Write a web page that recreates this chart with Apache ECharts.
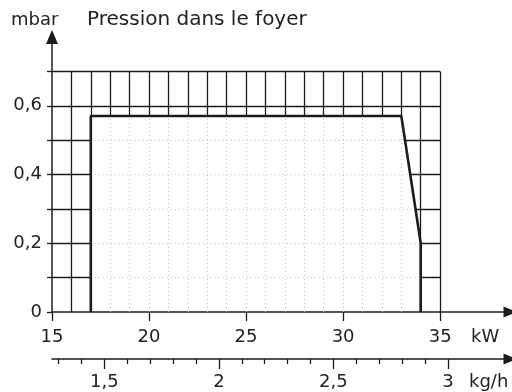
<!DOCTYPE html>
<html>
<head>
<meta charset="utf-8">
<script src="https://cdn.jsdelivr.net/npm/echarts@6/dist/echarts.min.js"></script>
<style>
html, body { margin: 0; padding: 0; background: #fff; }
#main { width: 512px; height: 392px; }
</style>
</head>
<body>
<div id="main"></div>
<script>
// axis labels / ticks
const kwLabels = [15, 20, 25, 30, 35];
const kghLabels = [1.5, 2, 2.5, 3];
const kghMinor = [1.3, 1.4, 1.6, 1.7, 1.8, 1.9, 2.1, 2.2, 2.3, 2.4, 2.6, 2.7, 2.8, 2.9];
const mbarLabels = [0, 0.2, 0.4, 0.6];
// background grid (kW every 1, mbar every 0.1)
const gridKw = [15, 16, 17, 18, 19, 20, 21, 22, 23, 24, 25, 26, 27, 28, 29, 30, 31, 32, 33, 34, 35];
const gridMbar = [0.1, 0.2, 0.3, 0.4, 0.5, 0.6, 0.7];
// working range outline
const zoneKw = [17, 17, 33, 34, 34];
const zoneMbar = [0, 0.57, 0.57, 0.2, 0];
const KW_PER_KGH = 11.8;

const INK = '#1c1c1c';
const FONT = 'DejaVu Sans';
const kwMin = 15, kwMax = 38.6, topMbar = 0.7;

// x of the right edge of the zone at a given pressure
function edgeAt(m) {
    for (let i = 2; i < zoneKw.length - 1; i++) {
        const y1 = zoneMbar[i], y2 = zoneMbar[i + 1];
        if (m <= y1 && m >= y2) {
            return zoneKw[i] + (zoneKw[i + 1] - zoneKw[i]) * (y1 - m) / (y1 - y2);
        }
    }
    return zoneKw[zoneKw.length - 1];
}

const zoneTop = zoneMbar[1];
const blackSegs = [];
const faintSegs = [];
gridKw.forEach(k => {
    if (k === kwMin) return;
    if (k < zoneKw[0] || k >= zoneKw[zoneKw.length - 1]) {
        blackSegs.push({ coords: [[k, 0], [k, topMbar]] });
    } else {
        blackSegs.push({ coords: [[k, zoneTop], [k, topMbar]] });
        if (k > zoneKw[0]) faintSegs.push({ coords: [[k, 0], [k, zoneTop]] });
    }
});
gridMbar.forEach(m => {
    if (m > zoneTop) {
        blackSegs.push({ coords: [[kwMin, m], [35, m]] });
    } else {
        blackSegs.push({ coords: [[kwMin, m], [zoneKw[0], m]] });
        blackSegs.push({ coords: [[edgeAt(m), m], [35, m]] });
        faintSegs.push({ coords: [[zoneKw[0], m], [edgeAt(m), m]] });
    }
});

const comma = v => String(v).replace('.', ',');
const labelStyle = { fontFamily: FONT, fontSize: 18, color: '#222' };

const chart = echarts.init(document.getElementById('main'), null, { renderer: 'canvas' });
chart.setOption({
    animation: false,
    title: [
        { text: 'mbar', left: 11, top: 11, padding: 0, textStyle: Object.assign({}, labelStyle, { fontWeight: 'normal' }) },
        { text: 'Pression dans le foyer', left: 87, top: 10, padding: 0, textStyle: Object.assign({}, labelStyle, { fontWeight: 'normal', fontSize: 20 }) }
    ],
    graphic: [
        { type: 'text', left: 471, top: 328, style: { text: 'kW', font: '18px "DejaVu Sans"', fill: '#222' } },
        { type: 'text', left: 469, top: 373, style: { text: 'kg/h', font: '18px "DejaVu Sans"', fill: '#222' } }
    ],
    grid: [
        { left: 52, right: 2, top: 37, bottom: 80 },
        { left: 52, right: 2, top: 350, bottom: 33 }
    ],
    xAxis: [
        {
            type: 'value', gridIndex: 0, min: kwMin, max: kwMax, position: 'bottom',
            axisLine: { lineStyle: { color: INK, width: 1.5 }, symbol: ['none', 'triangle'], symbolSize: [11, 13] },
            axisTick: { customValues: kwLabels, length: 9, lineStyle: { color: INK, width: 1.3 } },
            axisLabel: Object.assign({ customValues: kwLabels, margin: 16, formatter: comma }, labelStyle),
            splitLine: { show: false }
        },
        {
            type: 'value', gridIndex: 1, min: kwMin / KW_PER_KGH, max: kwMax / KW_PER_KGH, position: 'bottom',
            axisLine: { lineStyle: { color: INK, width: 1.5 }, symbol: ['none', 'triangle'], symbolSize: [11, 13] },
            axisTick: { customValues: kghMinor, length: 5, lineStyle: { color: INK, width: 1.3 } },
            axisLabel: { show: false },
            splitLine: { show: false }
        },
        {
            type: 'value', gridIndex: 1, min: kwMin / KW_PER_KGH, max: kwMax / KW_PER_KGH, position: 'bottom',
            axisLine: { show: false },
            axisTick: { customValues: kghLabels, length: 10, lineStyle: { color: INK, width: 1.3 } },
            axisLabel: Object.assign({ customValues: kghLabels, margin: 14, formatter: comma }, labelStyle),
            splitLine: { show: false }
        }
    ],
    yAxis: [
        {
            type: 'value', gridIndex: 0, min: 0, max: 0.8,
            axisLine: { lineStyle: { color: INK, width: 1.5 }, symbol: ['none', 'triangle'], symbolSize: [12, 14] },
            axisTick: { customValues: [0].concat(gridMbar), length: 5, lineStyle: { color: INK, width: 1.3 } },
            axisLabel: Object.assign({ customValues: mbarLabels, margin: 10, formatter: comma }, labelStyle),
            splitLine: { show: false }
        },
        { type: 'value', gridIndex: 1, min: 0, max: 1, show: false }
    ],
    series: [
        {
            name: 'grille', type: 'lines', coordinateSystem: 'cartesian2d', xAxisIndex: 0, yAxisIndex: 0,
            polyline: false, silent: true, z: 2,
            lineStyle: { color: INK, width: 1.3, opacity: 1 },
            data: blackSegs
        },
        {
            name: 'trame', type: 'lines', coordinateSystem: 'cartesian2d', xAxisIndex: 0, yAxisIndex: 0,
            polyline: false, silent: true, z: 3,
            lineStyle: { color: '#c4c4c4', width: 1, type: [1, 3], opacity: 1 },
            data: faintSegs
        },
        {
            name: 'zone', type: 'line', xAxisIndex: 0, yAxisIndex: 0, z: 4,
            symbol: 'none', clip: false,
            lineStyle: { color: INK, width: 2.6 },
            data: zoneKw.map((k, i) => [k, zoneMbar[i]])
        }
    ]
});
</script>
</body>
</html>
